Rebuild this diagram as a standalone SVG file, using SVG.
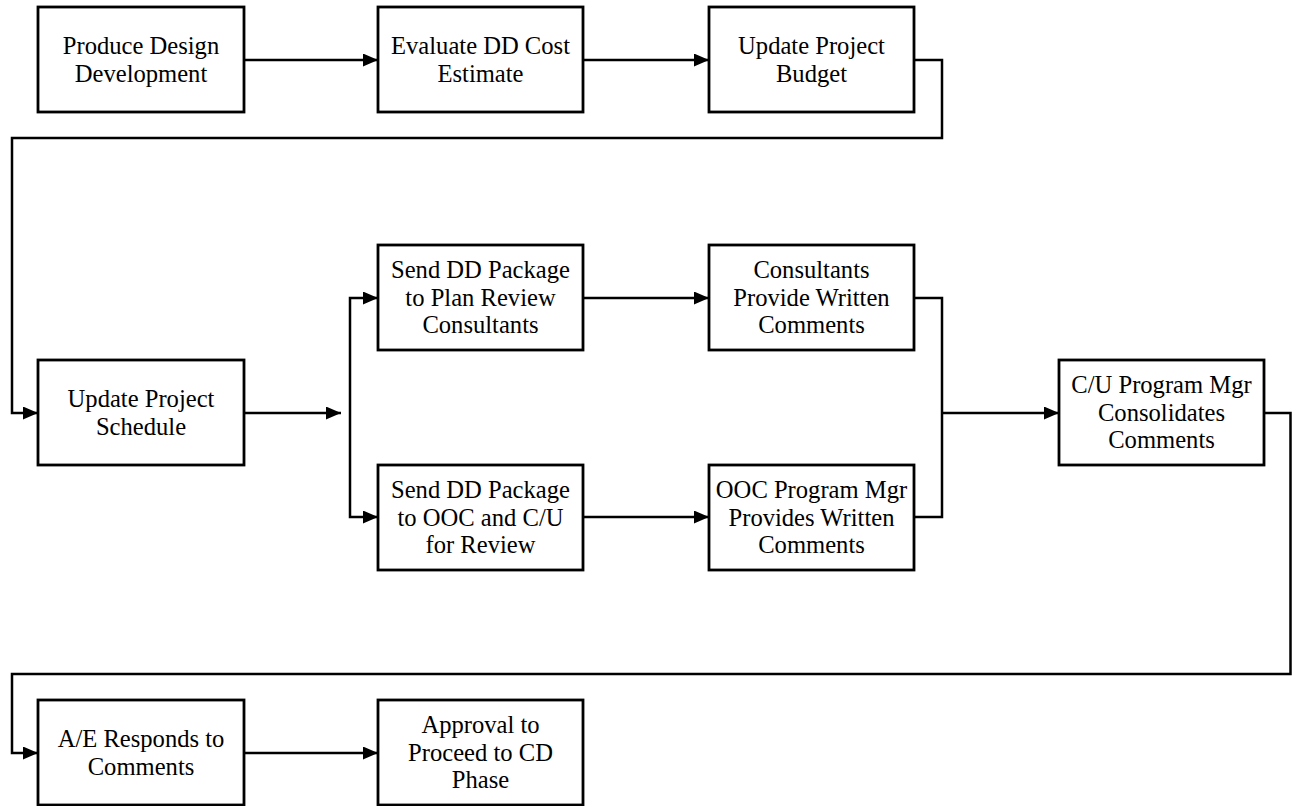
<svg xmlns="http://www.w3.org/2000/svg" width="1292" height="806" viewBox="0 0 1292 806">
<style>
.box{fill:#fff;stroke:#000;stroke-width:2.8}
.t{font-family:'Liberation Serif','Times New Roman',serif;font-size:24.6px;fill:#000;text-anchor:middle}
.c{fill:none;stroke:#000;stroke-width:2.5}
</style>
<defs>
<marker id="ah" markerUnits="userSpaceOnUse" markerWidth="16" markerHeight="14" refX="15" refY="6.5" orient="auto">
<path d="M0,0 L15,6.5 L0,13 Z" fill="#000"/>
</marker>
</defs>
<rect width="1292" height="806" fill="#fff"/>
<g id="connectors">
<path class="c" d="M244 60 H378" marker-end="url(#ah)"/>
<path class="c" d="M583 60 H709" marker-end="url(#ah)"/>
<path class="c" d="M914 60 H942 V138 H12 V413 H38" marker-end="url(#ah)"/>
<path class="c" d="M244 413 H341" marker-end="url(#ah)"/>
<path class="c" d="M350 413 V298 H378" marker-end="url(#ah)"/>
<path class="c" d="M350 413 V517 H378" marker-end="url(#ah)"/>
<path class="c" d="M583 298 H709" marker-end="url(#ah)"/>
<path class="c" d="M583 517 H709" marker-end="url(#ah)"/>
<path class="c" d="M914 298 H942 V517 H914"/>
<path class="c" d="M942 413 H1059" marker-end="url(#ah)"/>
<path class="c" d="M1264 413 H1290.5 V674 H12 V753 H38" marker-end="url(#ah)"/>
<path class="c" d="M244 753 H378" marker-end="url(#ah)"/>
</g>
<g id="n1"><rect class="box" x="38" y="7" width="206" height="105"/><text class="t" x="141" y="54">Produce Design</text><text class="t" x="141" y="82">Development</text></g>
<g id="n2"><rect class="box" x="378" y="7" width="205" height="105"/><text class="t" x="480.5" y="54">Evaluate DD Cost</text><text class="t" x="480.5" y="82">Estimate</text></g>
<g id="n3"><rect class="box" x="709" y="7" width="205" height="105"/><text class="t" x="811.5" y="54">Update Project</text><text class="t" x="811.5" y="82">Budget</text></g>
<g id="n4"><rect class="box" x="38" y="360" width="206" height="105"/><text class="t" x="141" y="407">Update Project</text><text class="t" x="141" y="435">Schedule</text></g>
<g id="n5"><rect class="box" x="378" y="245" width="205" height="105"/><text class="t" x="480.5" y="277.5">Send DD Package</text><text class="t" x="480.5" y="305.5">to Plan Review</text><text class="t" x="480.5" y="333">Consultants</text></g>
<g id="n6"><rect class="box" x="709" y="245" width="205" height="105"/><text class="t" x="811.5" y="277.5">Consultants</text><text class="t" x="811.5" y="305.5">Provide Written</text><text class="t" x="811.5" y="333">Comments</text></g>
<g id="n7"><rect class="box" x="378" y="465" width="205" height="105"/><text class="t" x="480.5" y="497.5">Send DD Package</text><text class="t" x="480.5" y="525.5">to OOC and C/U</text><text class="t" x="480.5" y="553">for Review</text></g>
<g id="n8"><rect class="box" x="709" y="465" width="205" height="105"/><text class="t" x="811.5" y="497.5">OOC Program Mgr</text><text class="t" x="811.5" y="525.5">Provides Written</text><text class="t" x="811.5" y="553">Comments</text></g>
<g id="n9"><rect class="box" x="1059" y="360" width="205" height="105"/><text class="t" x="1161.5" y="392.5">C/U Program Mgr</text><text class="t" x="1161.5" y="420.5">Consolidates</text><text class="t" x="1161.5" y="448">Comments</text></g>
<g id="n10"><rect class="box" x="38" y="700" width="206" height="105"/><text class="t" x="141" y="747">A/E Responds to</text><text class="t" x="141" y="775">Comments</text></g>
<g id="n11"><rect class="box" x="378" y="700" width="205" height="105"/><text class="t" x="480.5" y="732.5">Approval to</text><text class="t" x="480.5" y="760.5">Proceed to CD</text><text class="t" x="480.5" y="788">Phase</text></g>
</svg>
